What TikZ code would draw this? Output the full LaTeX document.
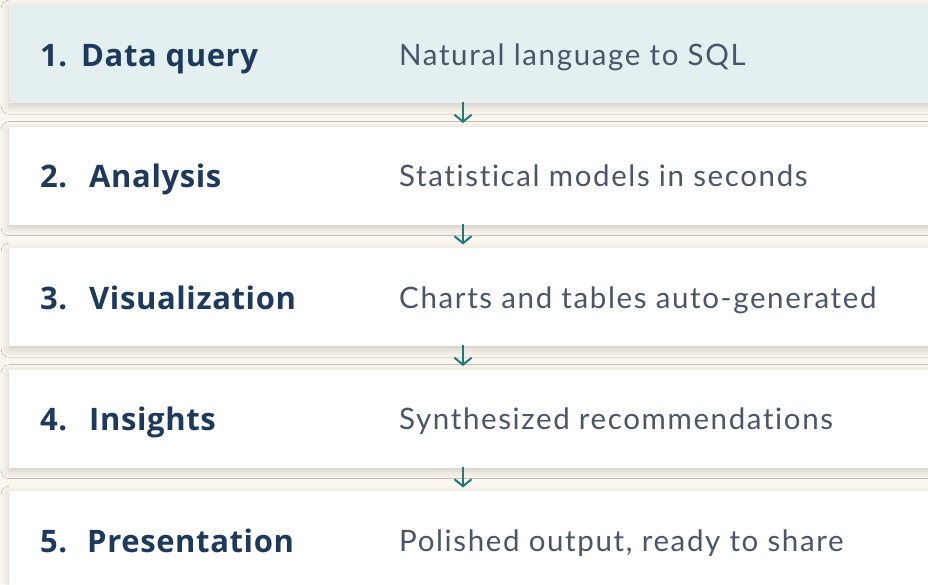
\documentclass[tikz,border=0pt]{standalone}
\usepackage{fontspec}
\setmainfont{Lato}
\newfontfamily\lblfont[LetterSpace=2]{Open Sans Bold}
\newfontfamily\descfont[LetterSpace=5.5,Ligatures={NoCommon,NoContextual}]{Lato}
\usetikzlibrary{shadows.blur,arrows.meta}
\definecolor{bgc}{HTML}{FBF6EE}
\definecolor{tealbox}{HTML}{E4F0F0}
\definecolor{navy}{HTML}{1D3A5C}
\definecolor{slate}{HTML}{4A5568}
\definecolor{arrowc}{HTML}{1F7A78}
\tikzset{
  stepbox/.style={fill=white, draw=none, minimum height=98pt, minimum width=940pt,
    anchor=north west, inner sep=0pt,
    blur shadow={shadow xshift=0pt, shadow yshift=-3pt, shadow blur radius=8pt, shadow opacity=18}},
  lbl/.style={anchor=base west, inner sep=0pt, text=navy, font=\lblfont\fontsize{31}{36}\selectfont},
  desc/.style={anchor=base west, inner sep=0pt, text=slate, font=\descfont\fontsize{29.5}{34}\selectfont},
  arr/.style={draw=arrowc, line width=2pt, -{Straight Barb[length=7pt,width=17pt,line width=2pt]}}
}
\begin{document}
\begin{tikzpicture}[x=1pt,y=-1pt]
\useasboundingbox (0,0) rectangle (928,584);
\fill[bgc] (0,0) rectangle (928,584);
\clip (0,0) rectangle (928,584);
\node[stepbox, fill=tealbox] (b1) at (9,5) {};
\node[stepbox] (b2) at (9,126.5) {};
\node[stepbox] (b3) at (9,248) {};
\node[stepbox] (b4) at (9,369.5) {};
\node[stepbox] (b5) at (9,491) {};
\coordinate (ax) at (463,0);
\draw[arr, shorten <=-1pt, shorten >=3.5pt] (b1.south -| ax) -- (b2.north -| ax);
\draw[arr, shorten <=-1pt, shorten >=3.5pt] (b2.south -| ax) -- (b3.north -| ax);
\draw[arr, shorten <=-1pt, shorten >=3.5pt] (b3.south -| ax) -- (b4.north -| ax);
\draw[arr, shorten <=-1pt, shorten >=3.5pt] (b4.south -| ax) -- (b5.north -| ax);
\node[lbl] (n1) at (40,66) {1.};
\node[lbl] (l1) at (81,66) {Data query};
\node[lbl] (n2) at (40,187.5) {2.};
\node[lbl] (l2) at (89,187.5) {Analysis};
\node[lbl] (n3) at (40,309) {3.};
\node[lbl] (l3) at (89,309) {Visualization};
\node[lbl] (n4) at (40,430.5) {4.};
\node[lbl] (l4) at (89,430.5) {Insights};
\node[lbl] (n5) at (40,552) {5.};
\node[lbl] (l5) at (87,552) {Presentation};
\node[desc] (d1) at (399,65) {Natural language to SQL};
\node[desc] (d2) at (399,186.5) {Statistical models in seconds};
\node[desc] (d3) at (399,308) {Charts and tables auto-generated};
\node[desc] (d4) at (399,429.5) {Synthesized recommendations};
\node[desc] (d5) at (399,551) {Polished output, ready to share};
\end{tikzpicture}
\end{document}
